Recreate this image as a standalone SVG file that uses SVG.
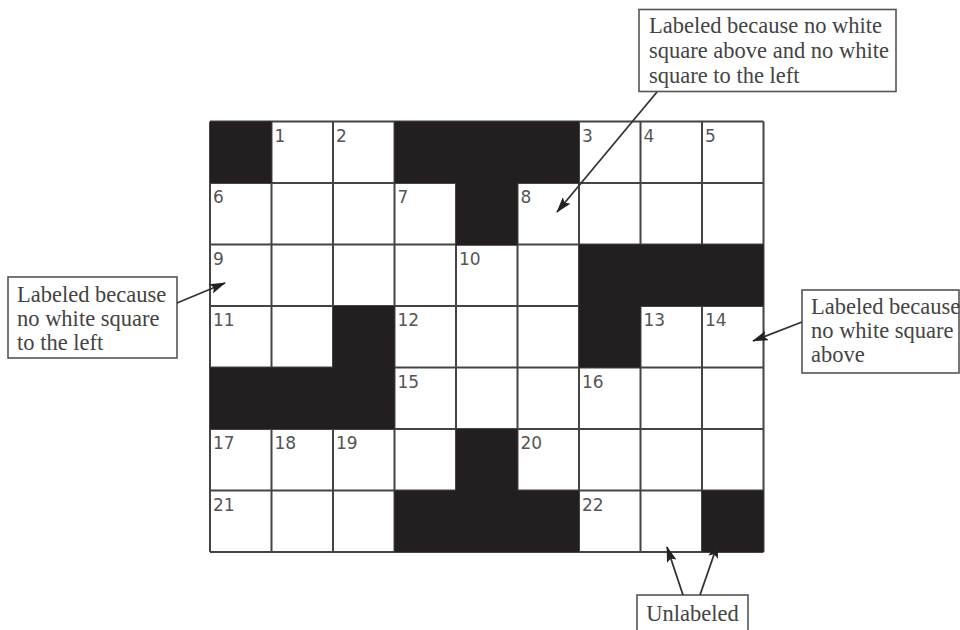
<svg xmlns="http://www.w3.org/2000/svg" width="960" height="630" viewBox="0 0 960 630">
<style>
.num{font-family:"DejaVu Sans",Verdana,sans-serif;font-size:17px;fill:#555}
.lbl{font-family:"Liberation Serif","Times New Roman",serif;font-size:22.5px;fill:#444}
.box{fill:#fff;stroke:#555;stroke-width:1.6}
.blk{fill:#231f20}
.grid{stroke:#444;stroke-width:2;fill:none}
.conn{stroke:#333;stroke-width:1.8;fill:none;marker-end:url(#ah)}
</style>
<defs>
<marker id="ah" viewBox="0 0 16 10" refX="15" refY="5" markerWidth="16" markerHeight="10" markerUnits="userSpaceOnUse" orient="auto">
<path d="M0,0 L16,5 L0,10 L3,5 Z" fill="#222"/>
</marker>
</defs>
<rect width="960" height="630" fill="#fff"/>
<g id="grid">
<rect x="210" y="121.5" width="553.5" height="430.5" fill="#fff"/>
<path class="grid" d="M210,121.5V552M271.5,121.5V552M333,121.5V552M394.5,121.5V552M456,121.5V552M517.5,121.5V552M579,121.5V552M640.5,121.5V552M702,121.5V552M763.5,121.5V552M210,121.5H763.5M210,183H763.5M210,244.5H763.5M210,306H763.5M210,367.5H763.5M210,429H763.5M210,490.5H763.5M210,552H763.5"/>
<rect class="blk" x="210" y="121.5" width="61.5" height="61.5"/>
<rect class="blk" x="394.5" y="121.5" width="184.5" height="61.5"/>
<rect class="blk" x="456" y="182" width="61.5" height="63.5"/>
<rect class="blk" x="579" y="244.5" width="184.5" height="61.5"/>
<rect class="blk" x="333" y="306" width="61.5" height="62.5"/>
<rect class="blk" x="579" y="305" width="61.5" height="62.5"/>
<rect class="blk" x="210" y="367.5" width="184.5" height="61.5"/>
<rect class="blk" x="456" y="429" width="61.5" height="62.5"/>
<rect class="blk" x="394.5" y="490.5" width="184.5" height="61.5"/>
<rect class="blk" x="702" y="490.5" width="61.5" height="61.5"/>
<g class="num">
<text x="274.5" y="141.5">1</text>
<text x="336" y="141.5">2</text>
<text x="582" y="141.5">3</text>
<text x="643.5" y="141.5">4</text>
<text x="705" y="141.5">5</text>
<text x="213" y="203">6</text>
<text x="397.5" y="203">7</text>
<text x="520.5" y="203">8</text>
<text x="213" y="264.5">9</text>
<text x="459" y="264.5">10</text>
<text x="213" y="326">11</text>
<text x="397.5" y="326">12</text>
<text x="643.5" y="326">13</text>
<text x="705" y="326">14</text>
<text x="397.5" y="387.5">15</text>
<text x="582" y="387.5">16</text>
<text x="213" y="449">17</text>
<text x="274.5" y="449">18</text>
<text x="336" y="449">19</text>
<text x="520.5" y="449">20</text>
<text x="213" y="510.5">21</text>
<text x="582" y="510.5">22</text>
</g>
</g>
<g id="callout-top">
<rect class="box" x="639" y="9.5" width="257" height="82"/>
<text class="lbl" x="649" y="33">Labeled because no white</text>
<text class="lbl" x="649" y="58">square above and no white</text>
<text class="lbl" x="649" y="83">square to the left</text>
</g>
<g id="callout-left">
<rect class="box" x="8" y="277" width="169" height="81"/>
<text class="lbl" x="17" y="302">Labeled because</text>
<text class="lbl" x="17" y="326">no white square</text>
<text class="lbl" x="17" y="350">to the left</text>
</g>
<g id="callout-right">
<rect class="box" x="802" y="290" width="157" height="83"/>
<text class="lbl" x="811" y="314">Labeled because</text>
<text class="lbl" x="811" y="338">no white square</text>
<text class="lbl" x="811" y="362">above</text>
</g>
<g id="callout-bottom">
<rect class="box" x="637" y="595" width="111" height="40"/>
<text class="lbl" x="692.5" y="621" text-anchor="middle">Unlabeled</text>
</g>
<g id="connectors">
<line class="conn" x1="657" y1="92" x2="557" y2="212"/>
<line class="conn" x1="177" y1="303" x2="225" y2="283"/>
<line class="conn" x1="802" y1="322" x2="753" y2="341"/>
<line class="conn" x1="683" y1="595" x2="667" y2="547"/>
<line class="conn" x1="700" y1="595" x2="718" y2="543"/>
</g>
</svg>
